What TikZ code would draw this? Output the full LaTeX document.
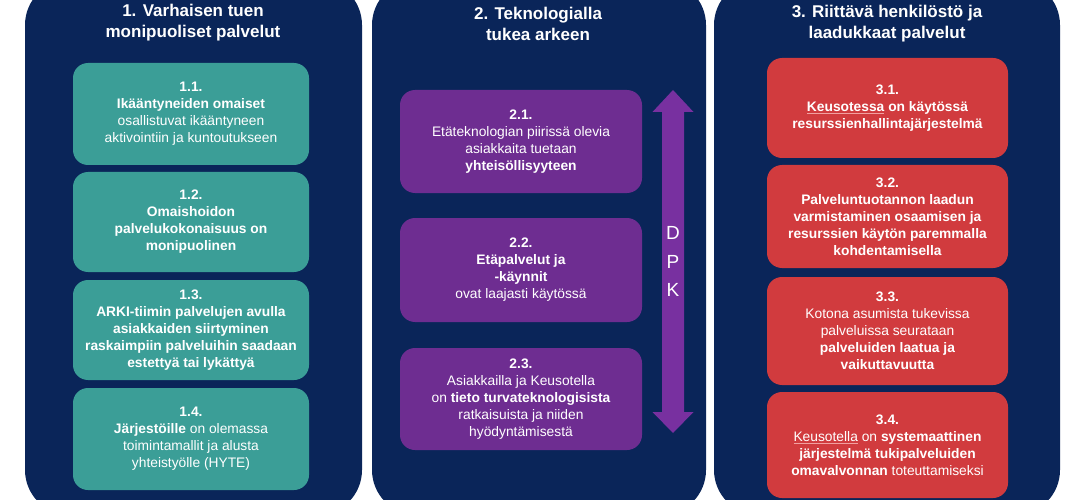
\documentclass[tikz,border=0pt]{standalone}
\usepackage{fontspec}
\setmainfont{Liberation Sans}
\usetikzlibrary{positioning}

\definecolor{keunavy}{HTML}{0A2559}
\definecolor{keuteal}{HTML}{3B9E97}
\definecolor{keupurple}{HTML}{6E2D91}
\definecolor{keuarrow}{HTML}{7830A0}
\definecolor{keured}{HTML}{D13B3E}
\definecolor{keupink}{HTML}{F2A0A0}

% spell-check style underline seen in the source slide
\newcommand{\spellul}[1]{{\color{keupink}\underline{\color{white}#1}}}

\begin{document}
\begin{tikzpicture}[x=1pt, y=-1pt,
    panel/.style={fill=keunavy, rounded corners=45pt, minimum height=535pt, inner sep=0pt},
    paneltitle/.style={text=white, align=center, font=\fontsize{17}{21}\selectfont\bfseries},
    goalbox/.style={rounded corners=15pt, text=white, align=center, inner sep=0pt,
        minimum height=102pt, font=\fontsize{13.8}{17}\selectfont},
    tealbox/.style={goalbox, fill=keuteal, minimum width=236pt},
    purplebox/.style={goalbox, fill=keupurple, minimum width=242pt},
    redbox/.style={goalbox, fill=keured, minimum width=241pt}
]

    % ==========================================
    % Canvas
    % ==========================================
    \useasboundingbox (0,0) rectangle (1090,500);
    \clip (0,0) rectangle (1090,500);
    \fill[white] (0,0) rectangle (1090,500);

    % ==========================================
    % PANEL 1: Varhaisen tuen palvelut
    % ==========================================
    \node[panel, minimum width=337pt] (panel1) at (193.5,247.5) {};
    \node[paneltitle] (title1) at (193,22.5) {1. Varhaisen tuen\\monipuoliset palvelut};

    \node[tealbox] (goal11) at (191,114)
        {\textbf{1.1.}\\\textbf{Ikääntyneiden omaiset}\\osallistuvat ikääntyneen\\aktivointiin ja kuntoutukseen};
    \node[tealbox, minimum height=100pt] (goal12) at (191,222)
        {\textbf{1.2.}\\\textbf{Omaishoidon}\\\textbf{palvelukokonaisuus on}\\\textbf{monipuolinen}};
    \node[tealbox, minimum height=100pt] (goal13) at (191,330)
        {\textbf{1.3.}\\\textbf{ARKI-tiimin palvelujen avulla}\\\textbf{asiakkaiden siirtyminen}\\\textbf{raskaimpiin palveluihin saadaan}\\\textbf{estettyä tai lykättyä}};
    \node[tealbox] (goal14) at (191,439)
        {\textbf{1.4.}\\\textbf{Järjestöille} on olemassa\\toimintamallit ja alusta\\yhteistyölle (HYTE)};

    % ==========================================
    % PANEL 2: Teknologia
    % ==========================================
    \node[panel, minimum width=334pt] (panel2) at (539,247.5) {};
    \node[paneltitle] (title2) at (538,23.5) {2. Teknologialla\\tukea arkeen};

    \node[purplebox, minimum height=103pt] (goal21) at (521,141.5)
        {\textbf{2.1.}\\Etäteknologian piirissä olevia\\asiakkaita tuetaan\\\textbf{yhteisöllisyyteen}};
    \node[purplebox, minimum height=104pt] (goal22) at (521,270)
        {\textbf{2.2.}\\\textbf{Etäpalvelut ja}\\\textbf{-käynnit}\\ovat laajasti käytössä};
    \node[purplebox] (goal23) at (521,399)
        {\textbf{2.3.}\\Asiakkailla ja Keusotella\\on \textbf{tieto turvateknologisista}\\ratkaisuista ja niiden\\hyödyntämisestä};

    % DPK double arrow
    \coordinate (dpktop) at (673,90);
    \coordinate (dpkbot) at (673,433);
    \fill[keuarrow] (dpktop) -- ++(20.5,22) -- ++(-9.5,0) -- ++(0,300) -- ++(9.5,0)
        -- (dpkbot) -- ++(-20.5,-21) -- ++(9.5,0) -- ++(0,-300) -- ++(-9.5,0) -- cycle;
    \node[text=white, align=center, font=\fontsize{19}{28.5}\selectfont] (dpk) at (673,261.5) {D\\P\\K};

    % ==========================================
    % PANEL 3: Henkilöstö ja laatu
    % ==========================================
    \node[panel, minimum width=346pt] (panel3) at (887,247.5) {};
    \node[paneltitle] (title3) at (887,23.5) {3. Riittävä henkilöstö ja\\laadukkaat palvelut};

    \node[redbox, minimum height=100pt] (goal31) at (887.5,108)
        {\textbf{3.1.}\\\textbf{\spellul{Keusotessa} on käytössä}\\\textbf{resurssienhallintajärjestelmä}};
    \node[redbox, minimum height=103pt] (goal32) at (887.5,216.5)
        {\textbf{3.2.}\\\textbf{Palveluntuotannon laadun}\\\textbf{varmistaminen osaamisen ja}\\\textbf{resurssien käytön paremmalla}\\\textbf{kohdentamisella}};
    \node[redbox, minimum height=108pt] (goal33) at (887.5,331)
        {\textbf{3.3.}\\Kotona asumista tukevissa\\palveluissa seurataan\\\textbf{palveluiden laatua ja}\\\textbf{vaikuttavuutta}};
    \node[redbox, minimum height=106pt] (goal34) at (887.5,445)
        {\textbf{3.4.}\\\spellul{Keusotella} on \textbf{systemaattinen}\\\textbf{järjestelmä tukipalveluiden}\\\textbf{omavalvonnan} toteuttamiseksi};

\end{tikzpicture}
\end{document}
